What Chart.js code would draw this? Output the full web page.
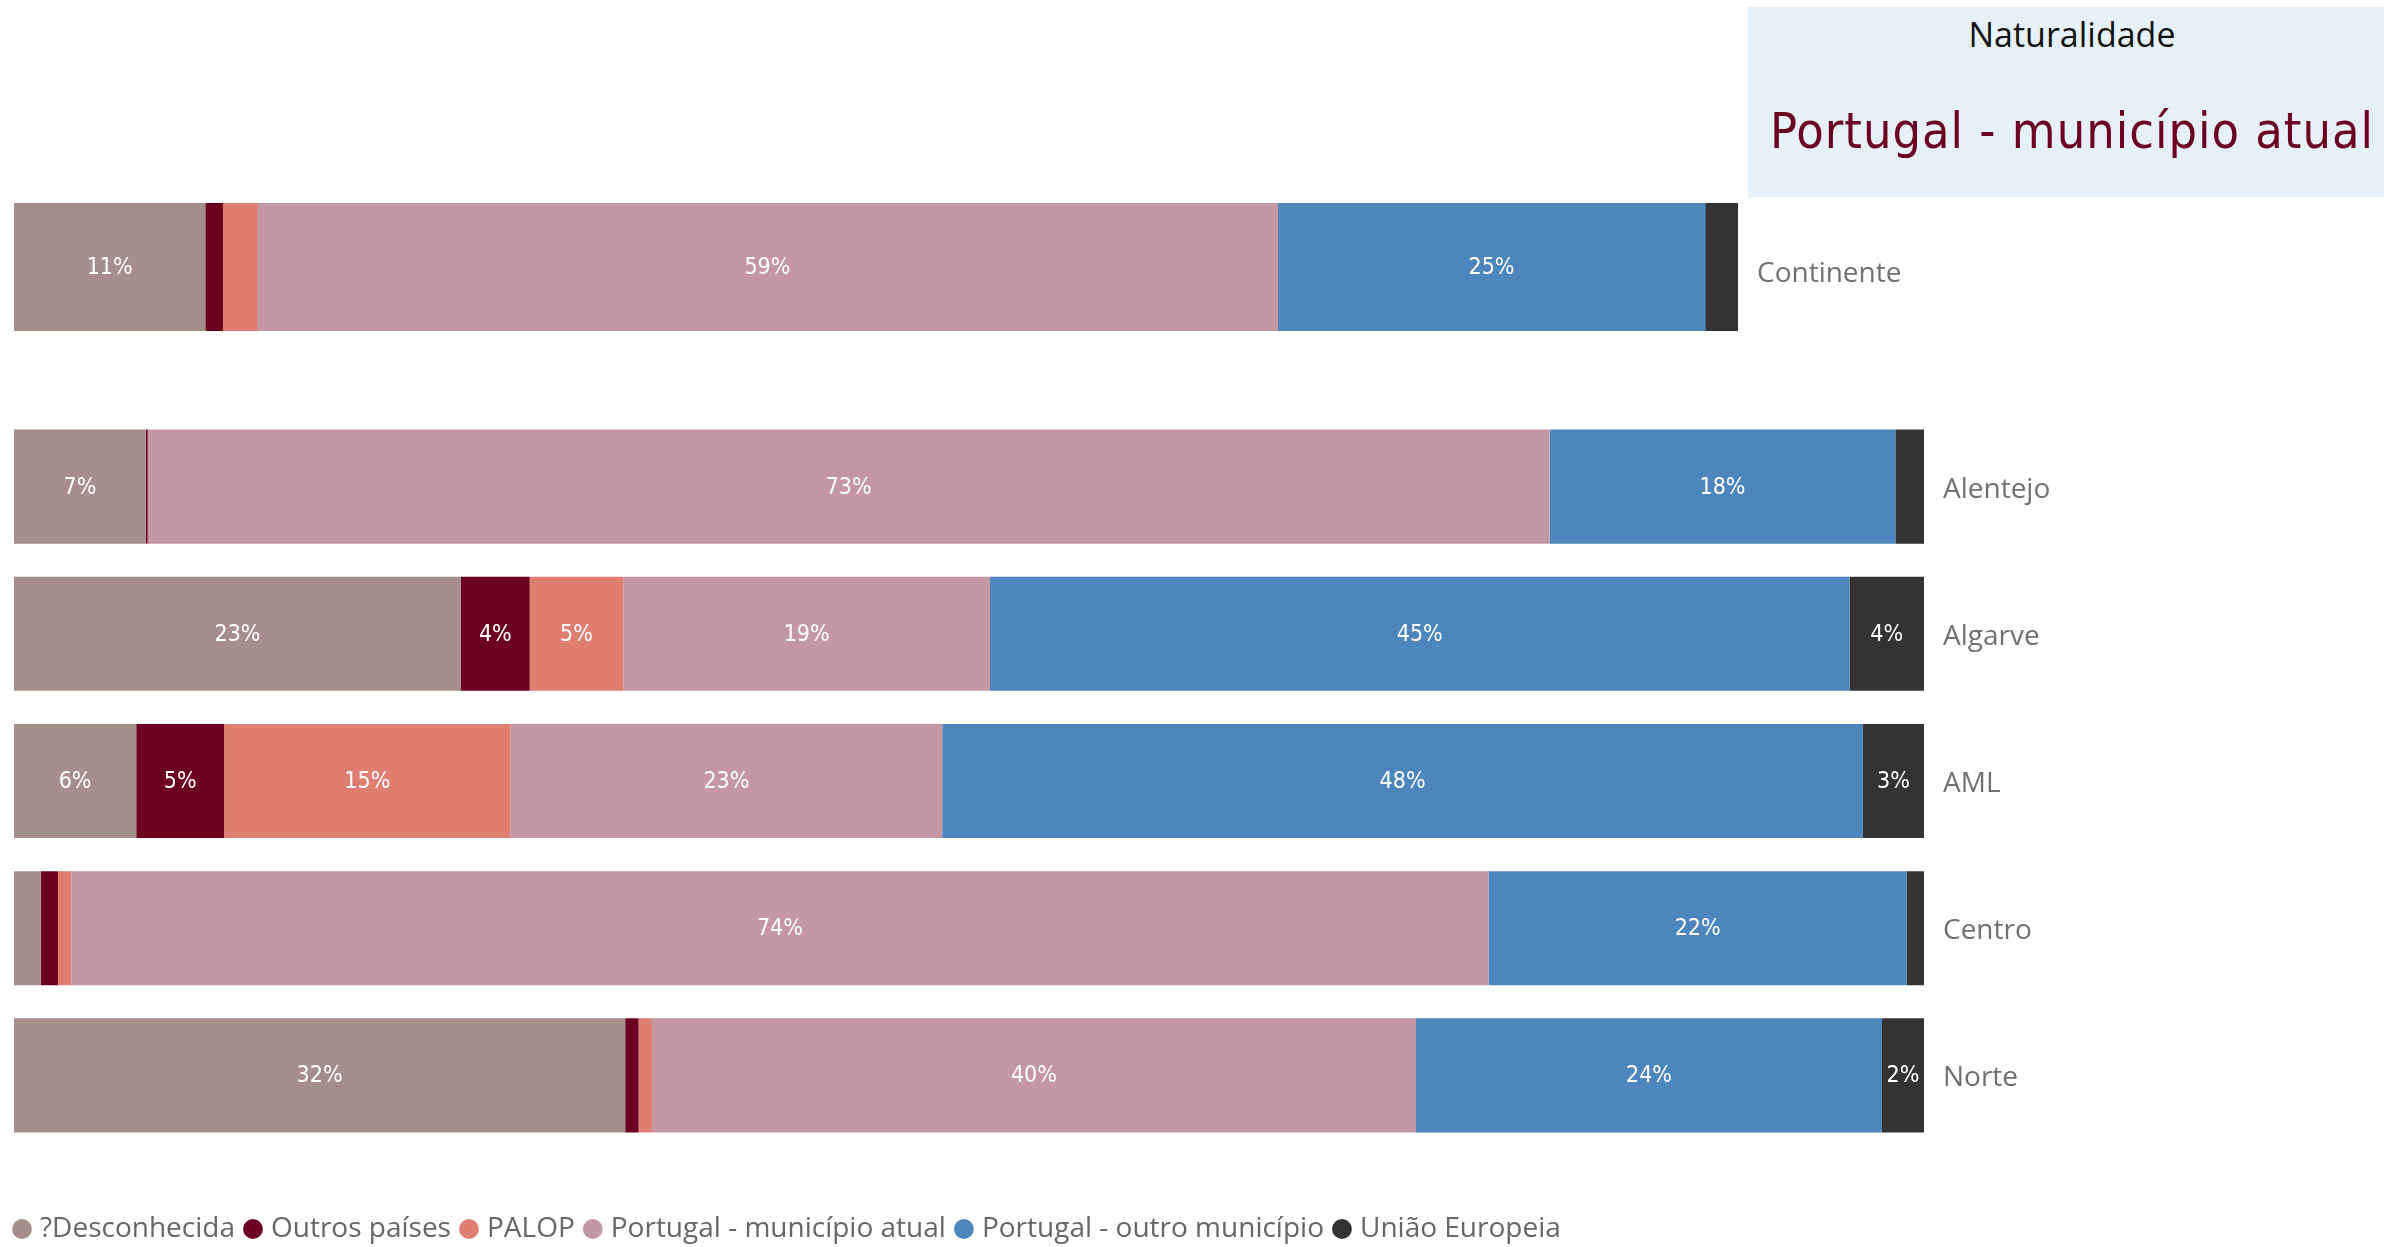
<!DOCTYPE html>
<html lang="pt">
<head>
<meta charset="UTF-8">
<title>Naturalidade</title>
<style>
  html, body { margin: 0; padding: 0; background: #fff; overflow: hidden; width: 2384px; height: 1247px; }
  .card { position: absolute; left: 1748px; top: 7px; width: 636px; height: 190px; background: #E6F1F7; }
  .cardTitle { position: absolute; left: 1672px; top: 17px; width: 800px; text-align: center;
    font-family: "Open Sans", sans-serif; font-size: 34px; line-height: 34px; color: #111; }
  .cardValue { position: absolute; left: 1672px; top: 106px; width: 800px; text-align: center;
    font-family: "DejaVu Sans Condensed", "Liberation Sans Narrow", sans-serif; font-size: 50px;
    line-height: 50px; letter-spacing: 1px; color: #6B0020; }
  #topWrap { position: absolute; left: 14px; top: 203px; width: 1974px; height: 128px; }
  #regWrap { position: absolute; left: 4px; top: 413px; width: 2380px; height: 840px; }
</style>
</head>
<body>
<div class="card"></div>
<div class="cardTitle">Naturalidade</div>
<div class="cardValue">Portugal - município atual</div>

<div id="topWrap"><canvas id="topChart"></canvas></div>
<div id="regWrap"><canvas id="regChart"></canvas></div>

<script src="https://cdn.jsdelivr.net/npm/chart.js"></script>
<script>
// series (legend order)
const seriesNames = ['?Desconhecida', 'Outros países', 'PALOP', 'Portugal - município atual', 'Portugal - outro município', 'União Europeia'];
const seriesColors = ['#A68E8C', '#6B0020', '#DE7F72', '#C397A3', '#4C86BD', '#333333'];

// top bar: Continente (% per series)
const topCategory = ['Continente'];
const continenteValues = [11.1, 1.0, 2.0, 59.2, 24.8, 1.9];

// regions (% per series)
const regions = ['Alentejo', 'Algarve', 'AML', 'Centro', 'Norte'];
const desconhecida   = [6.9, 23.4, 6.4, 1.4, 32.0];
const outrosPaises   = [0.1, 3.6, 4.6, 0.9, 0.7];
const palop          = [0.0, 4.9, 15.0, 0.7, 0.7];
const municipioAtual = [73.4, 19.2, 22.6, 74.2, 40.0];
const outroMunicipio = [18.1, 45.0, 48.2, 21.9, 24.4];
const uniaoEuropeia  = [1.5, 3.9, 3.2, 0.9, 2.2];
const regionSeries = [desconhecida, outrosPaises, palop, municipioAtual, outroMunicipio, uniaoEuropeia];

// white % labels inside the segments, only where they fit
const barLabels = {
  id: 'barLabels',
  afterDatasetsDraw(chart) {
    const ctx = chart.ctx;
    ctx.save();
    ctx.font = '23px "DejaVu Sans Condensed", "Liberation Sans Narrow", sans-serif';
    ctx.fillStyle = '#ffffff';
    ctx.textAlign = 'center';
    ctx.textBaseline = 'middle';
    chart.data.datasets.forEach((ds, i) => {
      const meta = chart.getDatasetMeta(i);
      meta.data.forEach((bar, j) => {
        const text = Math.round(ds.data[j]) + '%';
        const w = Math.abs(bar.x - bar.base);
        if (w < ctx.measureText(text).width + 6) return;
        ctx.fillText(text, (bar.x + bar.base) / 2, bar.y + 1);
      });
    });
    ctx.restore();
  }
};

const tickFont = { family: 'Open Sans', size: 28 };
const tickColor = '#707070';

// right-hand category axis: fixed width, no extra top/bottom padding from the labels
function fitCategoryAxis(width) {
  return (s) => {
    s.width = width;
    s.paddingTop = 0;
    s.paddingBottom = 0;
  };
}

new Chart(document.getElementById('topChart'), {
  type: 'bar',
  data: {
    labels: topCategory,
    datasets: seriesNames.map((name, i) => ({
      label: name,
      data: [continenteValues[i]],
      backgroundColor: seriesColors[i],
      borderWidth: 0,
      barPercentage: 1,
      categoryPercentage: 1
    }))
  },
  options: {
    indexAxis: 'y',
    responsive: true,
    maintainAspectRatio: false,
    animation: false,
    plugins: { legend: { display: false }, tooltip: { enabled: false } },
    scales: {
      x: { stacked: true, min: 0, max: 100, display: false },
      y: {
        stacked: true,
        position: 'right',
        grid: { display: false, drawTicks: false },
        border: { display: false },
        ticks: { padding: 19, labelOffset: 7, color: tickColor, font: tickFont },
        afterFit: fitCategoryAxis(250)
      }
    }
  },
  plugins: [barLabels]
});

new Chart(document.getElementById('regChart'), {
  type: 'bar',
  data: {
    labels: regions,
    datasets: seriesNames.map((name, i) => ({
      label: name,
      data: regionSeries[i],
      backgroundColor: seriesColors[i],
      borderWidth: 0,
      xAxisID: 'x',
      yAxisID: 'y',
      barPercentage: 0.775,
      categoryPercentage: 1
    }))
  },
  options: {
    indexAxis: 'y',
    responsive: true,
    maintainAspectRatio: false,
    animation: false,
    plugins: {
      tooltip: { enabled: false },
      legend: {
        position: 'bottom',
        align: 'start',
        labels: {
          usePointStyle: true,
          pointStyle: 'circle',
          boxWidth: 8,
          boxHeight: 14,
          padding: 14,
          color: '#666666',
          font: { family: 'Open Sans', size: 28 }
        }
      }
    },
    scales: {
      x: {
        stacked: true, min: 0, max: 100,
        ticks: { display: false },
        grid: { display: false, drawTicks: false },
        border: { display: false },
        afterFit: (s) => { s.height = 52; }
      },
      y: {
        stacked: true,
        position: 'right',
        grid: { display: false, drawTicks: false },
        border: { display: false },
        ticks: { padding: 19, labelOffset: 3, color: tickColor, font: tickFont },
        afterFit: fitCategoryAxis(460)
      },
      // empty strip on the left so the legend starts further left than the bars
      pad: {
        type: 'linear',
        position: 'left',
        ticks: { display: false },
        grid: { display: false, drawTicks: false },
        border: { display: false },
        afterFit: (s) => { s.width = 10; }
      }
    }
  },
  plugins: [barLabels]
});
</script>
</body>
</html>
